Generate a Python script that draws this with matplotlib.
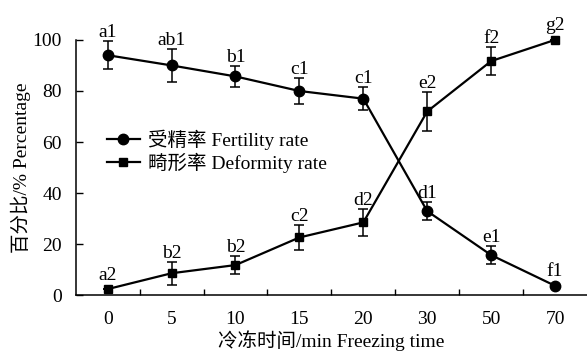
import matplotlib
matplotlib.use("Agg")
import matplotlib.pyplot as plt
from matplotlib.ticker import FixedLocator

plt.rcParams['font.family'] = ['Liberation Serif', 'Noto Sans CJK SC', 'DejaVu Sans']

categories = ['0', '5', '10', '15', '20', '30', '50', '70']
fert = [94, 90, 85.7, 80, 77, 33, 15.8, 3.8]
fert_err = [5.5, 6.5, 4.2, 5.0, 4.5, 3.4, 3.5, 0]
fert_lab = ['a1', 'ab1', 'b1', 'c1', 'c1', 'd1', 'e1', 'f1']
deform = [2.5, 8.7, 11.9, 22.7, 28.6, 72, 91.7, 100]
deform_err = [0, 4.5, 3.4, 5.0, 5.2, 7.6, 5.5, 0]
deform_lab = ['a2', 'b2', 'b2', 'c2', 'd2', 'e2', 'f2', 'g2']
yticks = [0, 20, 40, 60, 80, 100]

FS = 14
fig = plt.figure(figsize=(5.87, 3.56), dpi=100)
ax = fig.add_axes([0.129, 0.17, 0.871, 0.718])
x = list(range(len(categories)))

ax.errorbar(x, fert, yerr=fert_err, fmt='none', ecolor='black',
            capsize=3.5, elinewidth=1.1, capthick=1.1, clip_on=False, zorder=2)
ax.errorbar(x, deform, yerr=deform_err, fmt='none', ecolor='black',
            capsize=3.5, elinewidth=1.1, capthick=1.1, clip_on=False, zorder=2)
ax.plot(x, fert, color='black', lw=1.6, marker='o', ms=7.5, clip_on=False, zorder=3,
        label='受精率 Fertility rate')
ax.plot(x, deform, color='black', lw=1.6, marker='s', ms=6, clip_on=False, zorder=3,
        label='畸形率 Deformity rate')

for xi, v, e, t in zip(x, fert, fert_err, fert_lab):
    ax.annotate(t, (xi, v + e), xytext=(0, 0 if e else 4), textcoords='offset points',
                ha='center', va='bottom', fontsize=FS, annotation_clip=False)
for xi, v, e, t in zip(x, deform, deform_err, deform_lab):
    ax.annotate(t, (xi, v + e), xytext=(0, 0 if e else 4), textcoords='offset points',
                ha='center', va='bottom', fontsize=FS, annotation_clip=False)

ax.set_xlim(-0.5, len(categories) - 0.5)
ax.set_ylim(0, 100)
ax.set_xticks(x)
ax.set_xticklabels(categories, fontsize=FS)
ax.xaxis.set_minor_locator(FixedLocator([i + 0.5 for i in range(len(categories) - 1)]))
ax.tick_params(axis='x', which='major', length=0, pad=11)
ax.tick_params(axis='x', which='minor', direction='in', length=4, width=1)
ax.set_yticks(yticks)
ax.tick_params(axis='y', direction='in', length=5, width=1, labelsize=FS, pad=10)

for s in ['top', 'right']:
    ax.spines[s].set_visible(False)
for s in ['left', 'bottom']:
    ax.spines[s].set_linewidth(1.1)

ax.set_ylabel('百分比/% Percentage', fontsize=FS, labelpad=1)
ax.set_xlabel('冷冻时间/min Freezing time', fontsize=FS, labelpad=2)

leg = ax.legend(loc='upper left', bbox_to_anchor=(0.045, 0.68), frameon=False,
                fontsize=FS, handlelength=1.7, handletextpad=0.45, labelspacing=0.15,
                borderaxespad=0)

fig.savefig('out.png', dpi=100)
